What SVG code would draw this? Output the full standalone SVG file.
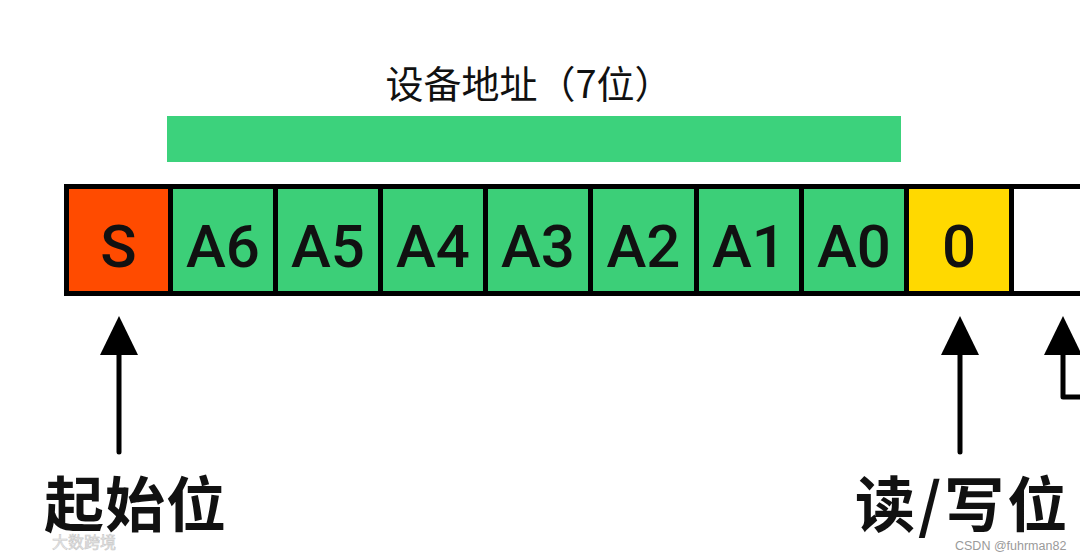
<svg xmlns="http://www.w3.org/2000/svg" width="1080" height="555" viewBox="0 0 1080 555">
<style>
.cell{stroke:#000;stroke-width:5}
.g{fill:#3CCF78}
.t{font-family:Roboto,"Liberation Sans",Arial,sans-serif;font-weight:500;font-size:60px;fill:#111;text-anchor:middle}
.cjk{font-family:"Noto Sans CJK SC","Noto Sans",sans-serif;fill:#111}
.lbl{font-size:60px;font-weight:bold}
.arrow{stroke:#000;stroke-width:5;fill:none;stroke-linecap:round;stroke-linejoin:round}
</style>
<rect width="1080" height="555" fill="#fff"/>
<g id="title">
<text class="cjk" x="529" y="98" font-size="38" text-anchor="middle">设备地址（7位）</text>
<rect x="167" y="116" width="734" height="46" fill="#3CD27C"/>
</g>
<g id="cells">
<g id="cell-S"><rect class="cell" x="66.5" y="186.5" width="104" height="107" fill="#FF4B00"/><text class="t" x="118.5" y="267">S</text></g>
<g id="cell-A6"><rect class="cell g" x="170.5" y="186.5" width="105" height="107"/><text class="t" x="223" y="267">A6</text></g>
<g id="cell-A5"><rect class="cell g" x="275.5" y="186.5" width="105" height="107"/><text class="t" x="328" y="267">A5</text></g>
<g id="cell-A4"><rect class="cell g" x="380.5" y="186.5" width="105" height="107"/><text class="t" x="433" y="267">A4</text></g>
<g id="cell-A3"><rect class="cell g" x="485.5" y="186.5" width="105" height="107"/><text class="t" x="538" y="267">A3</text></g>
<g id="cell-A2"><rect class="cell g" x="590.5" y="186.5" width="106" height="107"/><text class="t" x="643.5" y="267">A2</text></g>
<g id="cell-A1"><rect class="cell g" x="696.5" y="186.5" width="105" height="107"/><text class="t" x="749" y="267">A1</text></g>
<g id="cell-A0"><rect class="cell g" x="801.5" y="186.5" width="105" height="107"/><text class="t" x="854" y="267">A0</text></g>
<g id="cell-RW"><rect class="cell" x="906.5" y="186.5" width="105" height="107" fill="#FFD900"/><text class="t" x="959" y="267">0</text></g>
<g id="cell-next"><rect class="cell" x="1011.5" y="186.5" width="100" height="107" fill="#fff"/></g>
</g>
<g id="connectors">
<line class="arrow" x1="119" y1="452" x2="119" y2="350"/>
<polygon points="119,316 100,355 138,355" fill="#000"/>
<line class="arrow" x1="960" y1="452" x2="960" y2="350"/>
<polygon points="960,316 941,355 979,355" fill="#000"/>
<polyline class="arrow" points="1063,350 1063,397 1085,397"/>
<polygon points="1063,316 1044,355 1082,355" fill="#000"/>
</g>
<g id="label-start"><text class="cjk lbl" x="44" y="527" letter-spacing="1">起始位</text></g>
<g id="label-rw"><text class="cjk lbl" x="855" y="527" letter-spacing="3">读/写位</text></g>
<g id="watermarks">
<text x="955" y="550" font-family="Liberation Sans,Arial,sans-serif" font-size="12.5" fill="#9a9a9a">CSDN @fuhrman82</text>
<text x="52" y="548" font-family="Noto Sans CJK SC,sans-serif" font-size="16" fill="#e8e8e8" stroke="#bbb" stroke-width="0.6" opacity="0.8">大数跨境</text>
</g>
</svg>
